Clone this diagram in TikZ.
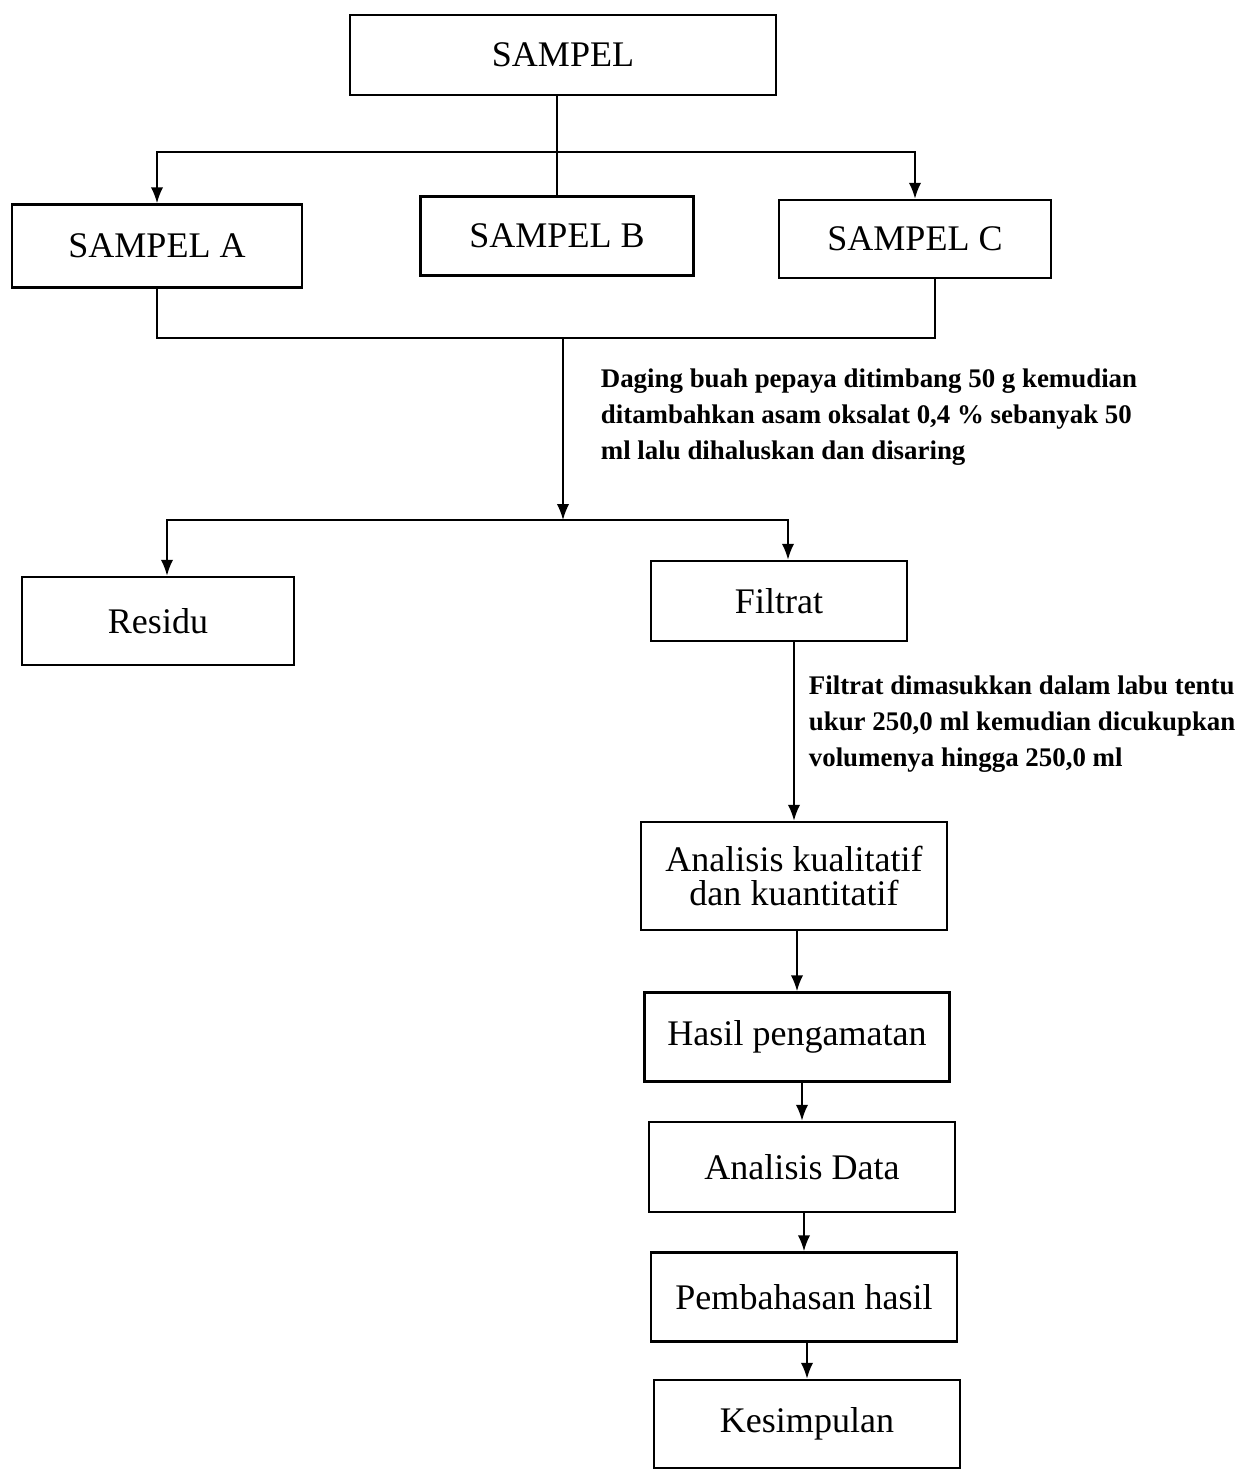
\documentclass[tikz,border=0pt]{standalone}
\usepackage{fontspec}
\setmainfont{Liberation Serif}
\usetikzlibrary{positioning, arrows.meta}

\begin{document}
\begin{tikzpicture}[x=0.02cm, y=-0.02cm, >={Latex[length=9pt,width=7pt]}, line width=1pt,
   box/.style={draw, line width=1.5pt, inner sep=0pt, align=center, font=\fontsize{20.5}{19.5}\selectfont},
   note/.style={anchor=north west, align=left, inner sep=0pt, font=\fontsize{15.3}{20.5}\selectfont\bfseries}]
   \useasboundingbox (0,0) rectangle (1246,1472);
   \node[box, minimum width=8.52cm, minimum height=1.6cm] (sampel) at (563,55) {SAMPEL};
   \node[box, minimum width=5.8cm, minimum height=1.66cm] (sampel_a) at (157,246) {SAMPEL A};
   \node[box, minimum width=5.46cm, minimum height=1.58cm] (sampel_b) at (557,236) {SAMPEL B};
   \node[box, minimum width=5.44cm, minimum height=1.56cm] (sampel_c) at (915,239) {SAMPEL C};
   \node[box, minimum width=5.44cm, minimum height=1.76cm] (residu) at (158,621) {Residu};
   \node[box, minimum width=5.12cm, minimum height=1.6cm] (filtrat) at (779,601) {Filtrat};
   \node[box, minimum width=6.12cm, minimum height=2.16cm] (analisis) at (794,876) {Analisis kualitatif\\dan kuantitatif};
   \node[box, minimum width=6.1cm, minimum height=1.78cm] (hasil) at (797,1037) {Hasil pengamatan};
   \node[box, minimum width=6.12cm, minimum height=1.8cm] (data) at (802,1167) {Analisis Data};
   \node[box, minimum width=6.12cm, minimum height=1.78cm] (bahas) at (804,1297) {Pembahasan hasil};
   \node[box, minimum width=6.12cm, minimum height=1.76cm] (simpul) at (807,1424) {Kesimpulan};
   \coordinate (top_split) at (557,152);
   \coordinate (merge) at (563,338);
   \coordinate (split) at (563,520);
   \draw (sampel_b.north |- sampel.south) -- (sampel_b.north);
   \draw[->] (top_split) -| (sampel_a.north);
   \draw[->] (top_split) -| (sampel_c.north);
   \draw (sampel_a.south) |- (merge) -| ([xshift=0.4cm]sampel_c.south);
   \draw[->] (merge) -- (split);
   \draw[->] (split) -| ([xshift=0.18cm]residu.north);
   \draw[->] (split) -| ([xshift=0.18cm]filtrat.north);
   \node[note] (note_saring) at (600,368) {Daging buah pepaya ditimbang 50 g kemudian\\ditambahkan asam oksalat 0,4 \% sebanyak 50\\ml lalu dihaluskan dan disaring};
   \draw[->] (analisis.north |- filtrat.south) -- (analisis.north);
   \node[note] (note_labu) at (808,675) {Filtrat dimasukkan dalam labu tentu\\ukur 250,0 ml kemudian dicukupkan\\volumenya hingga 250,0 ml};
   \draw[->] (hasil.north |- analisis.south) -- (hasil.north);
   \draw[->] (data.north |- hasil.south) -- (data.north);
   \draw[->] (bahas.north |- data.south) -- (bahas.north);
   \draw[->] (simpul.north |- bahas.south) -- (simpul.north);
\end{tikzpicture}
\end{document}
